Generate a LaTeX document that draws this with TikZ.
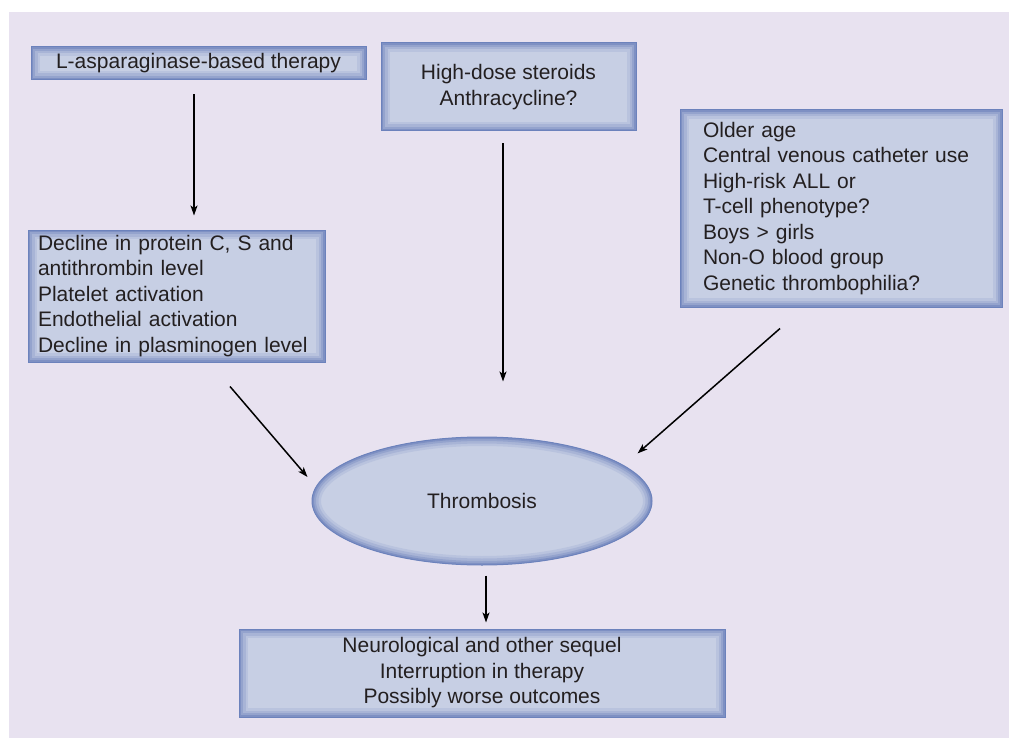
\documentclass[tikz,border=0pt]{standalone}
\usepackage{fontspec}
\setmainfont{Liberation Sans}
\usetikzlibrary{arrows.meta,shapes.geometric,calc,positioning}
\definecolor{backlav}{RGB}{232,226,240}
\definecolor{boxfill}{RGB}{199,207,228}
\definecolor{boxedge}{RGB}{108,130,188}
\definecolor{inkdark}{RGB}{35,31,32}

\begin{document}
\begin{tikzpicture}[x=1pt,y=-1pt,->,>={Stealth[length=10pt,width=7pt,inset=2.5pt]},line width=1.5pt,
		font=\fontsize{21}{25.5}\selectfont,text=inkdark,
		box node/.style={rectangle,fill=boxfill,draw=boxedge,line width=1pt,inner sep=0pt,
			path picture={
				\foreach \w/\o in {18/0.15,13/0.22,8/0.32,4/0.55}
					\draw[-,boxedge,opacity=\o,line width=\w pt]
						(path picture bounding box.south west) rectangle (path picture bounding box.north east);
			}},
		oval node/.style={ellipse,fill=boxfill,draw=boxedge,line width=1pt,inner sep=0pt,
			minimum width=340pt,minimum height=128pt,
			path picture={
				\foreach \w/\o in {18/0.15,13/0.22,8/0.32,4/0.55}
					\draw[-,boxedge,opacity=\o,line width=\w pt]
						let \p1=($(path picture bounding box.north east)-(path picture bounding box.center)$) in
						(path picture bounding box.center) ellipse [x radius=\x1,y radius=\y1];
			}}]
	\useasboundingbox (0,0) rectangle (1009,738);
	\fill[backlav] (9,12) rectangle (1009,738);
	%
	% Causes along the top.
	\node[box node,minimum width=335pt,minimum height=33pt] (asp) at (198.5,63.5) {L-asparaginase-based therapy};
	\node[box node,minimum width=255pt,minimum height=88pt,align=center] (ster) at (508.5,87)
		{High-dose steroids\\Anthracycline?};
	\node[box node,minimum width=322pt,minimum height=197pt,text width=276pt,align=left] (risk) at (841,208.5)
		{Older age\\Central venous catheter use\\High-risk ALL or\\T-cell phenotype?\\Boys > girls\\Non-O blood group\\Genetic thrombophilia?};
	\node[box node,minimum width=297pt,minimum height=132pt,text width=277pt,align=left] (mech) at (176.5,296)
		{Decline in protein C, S and\\antithrombin level\\Platelet activation\\Endothelial activation\\Decline in plasminogen level};
	%
	% The clot and what follows it.
	\node[oval node] (thr) at (482,501) {Thrombosis};
	\node[box node,minimum width=486pt,minimum height=88pt,align=center] (out) [below=63pt of thr]
		{Neurological and other sequel\\Interruption in therapy\\Possibly worse outcomes};
	%
	% Arrows into the clot.
	\path
		([xshift=-4.5pt,yshift=-14pt]asp.south) edge ([xshift=17.5pt,yshift=14pt]mech.north)
		([xshift=-5.5pt,yshift=-12pt]ster.south) edge ([xshift=21pt,yshift=55pt]thr.north)
		([xshift=53.5pt,yshift=-24pt]mech.south) edge ([xshift=-4pt,yshift=24pt]thr.west)
		([xshift=-61pt,yshift=-21pt]risk.south) edge ([xshift=35pt,yshift=2pt]thr.north east);
	%
	% Arrow out of the clot.
	\path
		([xshift=4pt,yshift=-10pt]thr.south) edge ([xshift=4pt,yshift=6pt]out.north);
\end{tikzpicture}
\end{document}
